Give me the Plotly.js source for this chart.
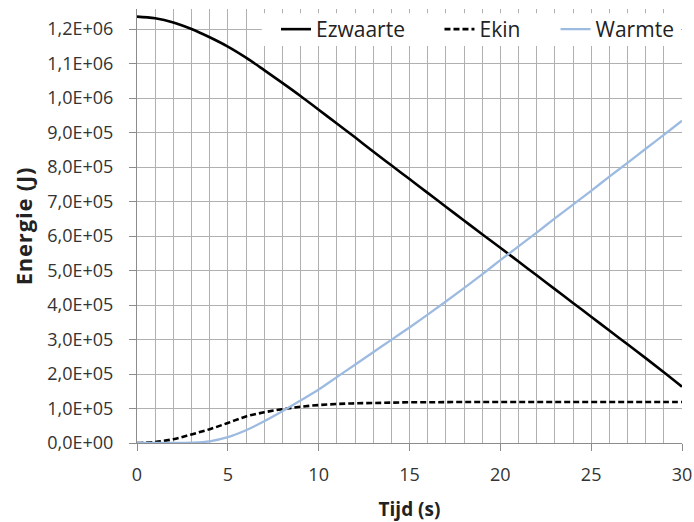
<!DOCTYPE html>
<html>
<head>
<meta charset="utf-8">
<script src="https://cdn.plot.ly/plotly-3.0.1.min.js"></script>
<style>
html,body{margin:0;padding:0;background:#fff;}
#chart{width:694px;height:522px;}
#chart .ytitle{letter-spacing:0.8px;}
</style>
</head>
<body>
<div id="chart"></div>
<script>
// Time (s)
const tijd = [0,1,2,3,4,5,6,7,8,9,10,11,12,13,14,15,16,17,18,19,20,21,22,23,24,25,26,27,28,29,30];
// Energies (J)
const ezwaarte = [1236000,1231000,1219000,1200000,1176000,1149000,1117000,1081000,1044000,1006000,966000,926000,886000,845000,805000,765000,725000,685000,645000,605000,566000,526000,486000,446000,406000,366000,326000,286000,246000,205000,163000];
const ekin = [0,3000,11000,25000,40000,58000,77000,89000,98000,105000,110000,113000,115000,116000,117000,118000,118000,118500,119000,119000,119000,119000,119000,119000,119000,119000,119000,119000,119000,119000,119000];
const warmte = [0,0,0,1000,5000,17000,37000,63000,92000,123000,155000,191000,227000,263000,299000,335000,372000,410000,449000,489000,530000,570000,610000,651000,691000,731000,772000,812000,853000,893000,934000];

const yTickVals = [0,100000,200000,300000,400000,500000,600000,700000,800000,900000,1000000,1100000,1200000];
const yTickText = ["0,0E+00","1,0E+05","2,0E+05","3,0E+05","4,0E+05","5,0E+05","6,0E+05","7,0E+05","8,0E+05","9,0E+05","1,0E+06","1,1E+06","1,2E+06"];
const xTickVals = [0,5,10,15,20,25,30];
const xTickText = ["0","5","10","15","20","25","30"];

const FONT = "'Open Sans', sans-serif";
const traces = [
  {x: tijd, y: ezwaarte, name: "Ezwaarte", mode: "lines", legend: "legend",
   line: {color: "#000000", width: 2.6, shape: "spline"}},
  {x: tijd, y: ekin, name: "Ekin", mode: "lines", legend: "legend2",
   line: {color: "#000000", width: 2.6, dash: "6px,3px", shape: "spline"}},
  {x: tijd, y: warmte, name: "Warmte", mode: "lines", legend: "legend3",
   line: {color: "#9dbbe0", width: 2.3, shape: "spline"}}
];

const legBase = {orientation: "h", xanchor: "left", y: 1.0, yanchor: "top",
                 bgcolor: "rgba(0,0,0,0)", font: {size: 21, color: "#222222"}};

const layout = {
  width: 694, height: 522,
  margin: {l: 137, r: 12, t: 9, b: 79},
  paper_bgcolor: "#ffffff", plot_bgcolor: "#ffffff",
  font: {family: FONT, color: "#333333", size: 18},
  showlegend: true,
  legend: Object.assign({}, legBase, {x: 0.255}),
  legend2: Object.assign({}, legBase, {x: 0.555}),
  legend3: Object.assign({}, legBase, {x: 0.768}),
  shapes: [{type: "rect", xref: "paper", yref: "paper", x0: 0.229, x1: 0.998, y0: 0.915, y1: 0.99,
            fillcolor: "#ffffff", line: {width: 0}, layer: "above"}],
  xaxis: {
    range: [0, 30], tickmode: "array", tickvals: xTickVals, ticktext: xTickText,
    showgrid: true, gridcolor: "#b0b0b0", gridwidth: 1,
    minor: {dtick: 1, showgrid: true, gridcolor: "#b0b0b0", gridwidth: 1, ticks: ""},
    showline: true, linecolor: "#8c8c8c", linewidth: 1,
    ticks: "outside", ticklen: 7, tickcolor: "#8c8c8c", ticklabelstandoff: 8,
    zeroline: false, tickfont: {size: 18},
    title: {text: "<b>Tijd (s)</b>", font: {size: 19, color: "#222222"}, standoff: 18}
  },
  yaxis: {
    range: [0, 1258000], tickmode: "array", tickvals: yTickVals, ticktext: yTickText,
    showgrid: true, gridcolor: "#b0b0b0", gridwidth: 1,
    showline: true, linecolor: "#8c8c8c", linewidth: 1,
    ticks: "outside", ticklen: 7, tickcolor: "#8c8c8c", ticklabelstandoff: 12,
    zeroline: false, tickfont: {size: 18},
    title: {text: "<b>Energie (J)</b>", font: {size: 22, color: "#222222"}, standoff: 8}
  }
};

Plotly.newPlot("chart", traces, layout, {displayModeBar: false, staticPlot: true});
</script>
</body>
</html>
